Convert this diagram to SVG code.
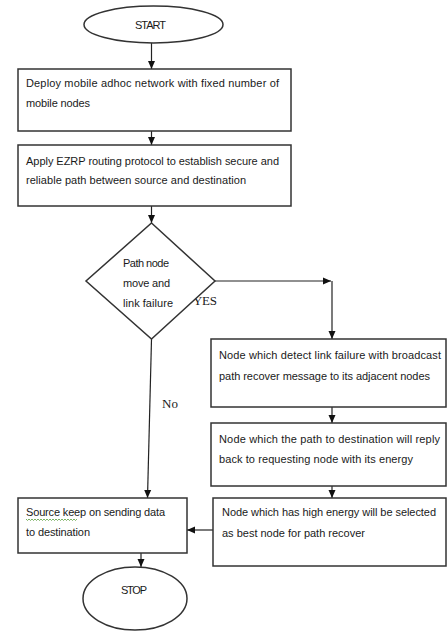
<svg xmlns="http://www.w3.org/2000/svg" width="447" height="631" viewBox="0 0 447 631">
<defs>
<style>
.b{fill:#fff;stroke:#333;stroke-width:1.5}
.t{font-family:"Liberation Sans",Arial,sans-serif;font-size:11px;fill:#1a1a1a}
.s{font-family:"Liberation Serif","Times New Roman",serif;font-size:13px;fill:#1a1a1a}
.c{fill:none;stroke:#222;stroke-width:1.2}
</style>
<marker id="a" viewBox="0 0 8 8" refX="8" refY="4" markerWidth="8" markerHeight="8" markerUnits="userSpaceOnUse" orient="auto">
<path d="M0,0.5 L8,4 L0,7.5 Z" fill="#111"/>
</marker>
</defs>
<rect width="447" height="631" fill="#fff"/>
<g id="connectors">
<line class="c" x1="151.5" y1="43" x2="151.5" y2="69" marker-end="url(#a)"/>
<line class="c" x1="151.5" y1="131" x2="151.5" y2="145" marker-end="url(#a)"/>
<line class="c" x1="151.5" y1="206" x2="151.5" y2="223" marker-end="url(#a)"/>
<line class="c" x1="215" y1="281" x2="331" y2="281" marker-end="url(#a)"/>
<line class="c" x1="332" y1="281" x2="332" y2="339" marker-end="url(#a)"/>
<line class="c" x1="332" y1="407" x2="332" y2="423" marker-end="url(#a)"/>
<line class="c" x1="332" y1="486" x2="332" y2="498" marker-end="url(#a)"/>
<line class="c" x1="151.5" y1="339" x2="147.5" y2="498" marker-end="url(#a)"/>
<line class="c" x1="213" y1="530" x2="187" y2="530" marker-end="url(#a)"/>
<line class="c" x1="141" y1="553" x2="141" y2="567" marker-end="url(#a)"/>
<text class="s" x="193" y="305" textLength="24">YES</text>
<text class="s" x="162" y="408">No</text>
</g>
<g id="start">
<ellipse class="b" cx="153.5" cy="24.5" rx="69.5" ry="18.5"/>
<text class="t" x="135" y="29" textLength="31">START</text>
</g>
<g id="deploy">
<rect class="b" x="18" y="69" width="273" height="62"/>
<text class="t" x="26" y="87" textLength="253">Deploy mobile adhoc network with fixed number of</text>
<text class="t" x="26" y="107" textLength="64">mobile nodes</text>
</g>
<g id="apply">
<rect class="b" x="18" y="145" width="273" height="61"/>
<text class="t" x="26" y="165" textLength="253">Apply EZRP routing protocol to establish secure and</text>
<text class="t" x="26" y="184" textLength="220">reliable path between source and destination</text>
</g>
<g id="decision">
<polygon class="b" points="151.5,223 215,281 151.5,339 86,281"/>
<text class="t" x="123" y="267" textLength="46">Path node</text>
<text class="t" x="123" y="287" textLength="47">move and</text>
<text class="t" x="123" y="307" textLength="50">link failure</text>
</g>
<g id="detect">
<rect class="b" x="211" y="339" width="235" height="68"/>
<text class="t" x="219" y="359" textLength="222">Node which detect link failure with broadcast</text>
<text class="t" x="219" y="380" textLength="211">path recover message to its adjacent nodes</text>
</g>
<g id="reply">
<rect class="b" x="211" y="423" width="235" height="63"/>
<text class="t" x="219" y="443" textLength="221">Node which the path to destination will reply</text>
<text class="t" x="219" y="463" textLength="194">back to requesting node with its energy</text>
</g>
<g id="select">
<rect class="b" x="213" y="498" width="233" height="68"/>
<text class="t" x="222" y="516" textLength="214">Node which has high energy will be selected</text>
<text class="t" x="222" y="537" textLength="143">as best node for path recover</text>
</g>
<g id="source">
<rect class="b" x="18" y="498" width="169" height="55"/>
<text class="t" x="26" y="516" textLength="139">Source keep on sending data</text>
<text class="t" x="26" y="536" textLength="64">to destination</text>
<path d="M26,519 l1.5,1.5 l1.5,-1.5 l1.5,1.5 l1.5,-1.5 l1.5,1.5 l1.5,-1.5 l1.5,1.5 l1.5,-1.5 l1.5,1.5 l1.5,-1.5 l1.5,1.5 l1.5,-1.5 l1.5,1.5 l1.5,-1.5 l1.5,1.5 l1.5,-1.5 l1.5,1.5 l1.5,-1.5 l1.5,1.5 l1.5,-1.5 l1.5,1.5 l1.5,-1.5 l1.5,1.5 l1.5,-1.5 l1.5,1.5 l1.5,-1.5 l1.5,1.5 l1.5,-1.5 l1.5,1.5 l1.5,-1.5 l1.5,1.5 l1.5,-1.5 l1.5,1.5 l1.5,-1.5" fill="none" stroke="#5a9e3c" stroke-width="0.8"/>
</g>
<g id="stop">
<ellipse class="b" cx="135" cy="598.5" rx="52" ry="31.5"/>
<text class="t" x="121" y="594" textLength="26">STOP</text>
</g>
</svg>
